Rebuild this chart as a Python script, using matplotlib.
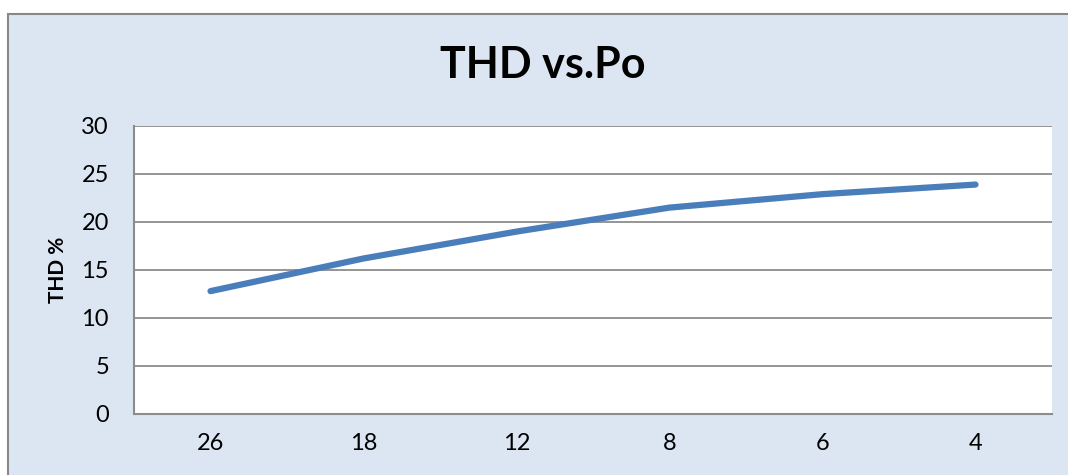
import matplotlib
matplotlib.use("Agg")
import matplotlib.pyplot as plt
from matplotlib.patches import Rectangle

# data
po_labels = ["26", "18", "12", "8", "6", "4"]
thd = [12.8, 16.2, 19.0, 21.5, 22.9, 23.9]

plt.rcParams['font.family'] = ['Lato', 'DejaVu Sans']

W, H = 1068, 475
fig = plt.figure(figsize=(W / 100, H / 100), dpi=100, facecolor="white")

# chart area box (cropped at right and bottom)
bg = Rectangle((8 / W, -0.05), 1.2, (H - 14) / H + 0.05, transform=fig.transFigure,
               facecolor="#dce6f2", edgecolor="#888888", linewidth=1.5, zorder=-10)
fig.patches.append(bg)

ax = fig.add_axes([134 / W, (H - 414) / H, 918 / W, 288 / H])
ax.set_zorder(1)
ax.set_facecolor("white")

x = range(len(po_labels))
ax.plot(x, thd, color="#4a7ebb", linewidth=4.5, solid_capstyle="round", zorder=3)

ax.set_xlim(-0.5, len(po_labels) - 0.5)
ax.set_ylim(0, 30)
ax.set_yticks(range(0, 31, 5))
ax.set_xticks(list(x))
ax.set_xticklabels(po_labels)
ax.grid(axis="y", color="#8c8c8c", linewidth=1.3)
ax.set_axisbelow(True)

for s in ["top", "right"]:
    ax.spines[s].set_visible(False)
for s in ["left", "bottom"]:
    ax.spines[s].set_color("#8c8c8c")
    ax.spines[s].set_linewidth(1.5)

ax.tick_params(axis="both", length=0, labelsize=17, colors="black")
ax.tick_params(axis="y", pad=18)
ax.tick_params(axis="x", pad=14)

fig.text(58 / W, 1 - 270 / H, "THD %", fontsize=15, fontweight="bold",
         rotation=90, ha="center", va="center")
fig.text(543 / W, 1 - 65 / H, "THD vs.Po", fontsize=31, fontweight="bold",
         ha="center", va="center")

fig.savefig("out.png", dpi=100, facecolor="white")
